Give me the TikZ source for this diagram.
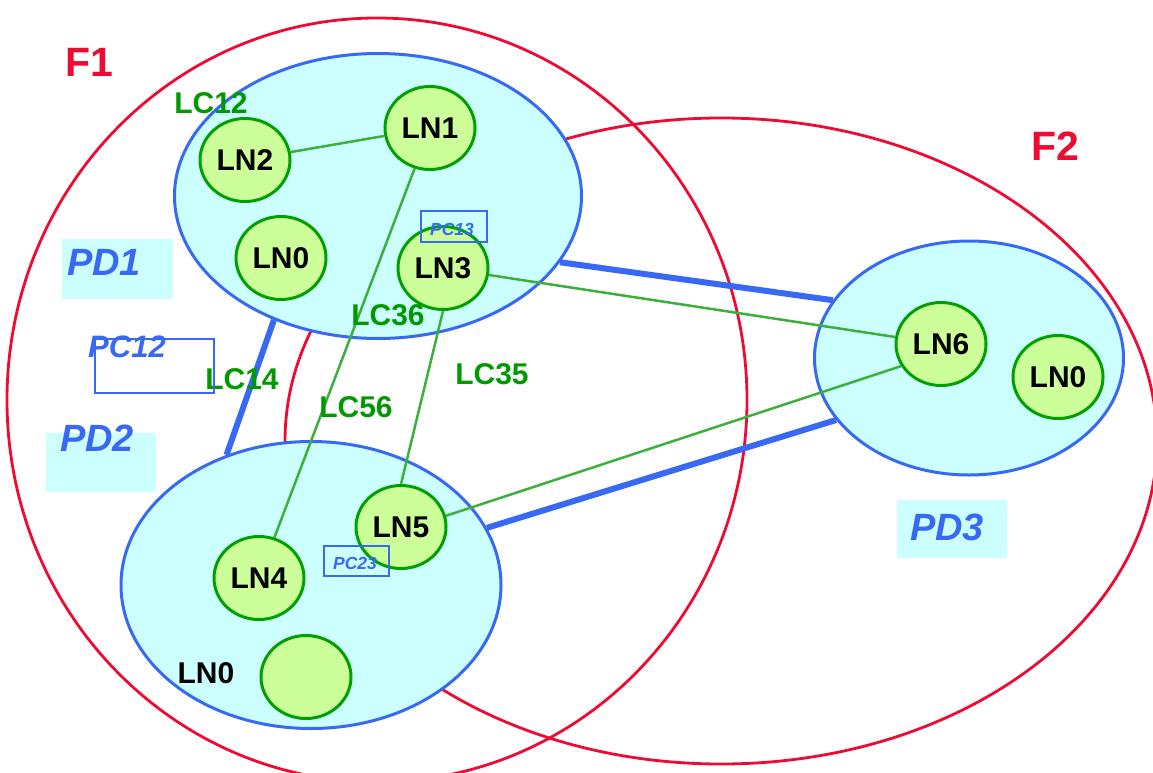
\documentclass[tikz,border=0pt]{standalone}
\usepackage{fontspec}
\setmainfont{Liberation Sans}
\usetikzlibrary{shapes.geometric}
\definecolor{fred}{RGB}{238,10,50}
\definecolor{pdblue}{RGB}{55,105,245}
\definecolor{pdfill}{RGB}{204,255,255}
\definecolor{lnfill}{RGB}{204,255,153}
\definecolor{lnborder}{RGB}{0,160,0}
\definecolor{lcgreen}{RGB}{0,153,0}
\definecolor{linkgreen}{RGB}{60,175,60}
\begin{document}
\begin{tikzpicture}[x=1pt,y=-1pt,
  pdomain/.style={ellipse, draw=pdblue, line width=3pt, fill=pdfill, inner sep=0pt},
  lnnode/.style={ellipse, draw=lnborder, line width=3pt, fill=lnfill, inner sep=0pt,
    minimum width=90pt, minimum height=83pt, font=\fontsize{30}{30}\selectfont\bfseries},
  lntext/.style={inner sep=0pt, font=\fontsize{30}{30}\selectfont\bfseries},
  lclabel/.style={text=lcgreen, inner sep=0pt, font=\fontsize{30}{30}\selectfont\bfseries},
  flabel/.style={text=fred, inner sep=0pt, font=\fontsize{41}{41}\selectfont\bfseries},
  pdlabel/.style={text=pdblue, inner sep=0pt, font=\fontsize{38}{38}\selectfont\bfseries\itshape},
  pdbox/.style={fill=pdfill, inner sep=0pt},
  pcbox/.style={draw=pdblue, line width=1.2pt, inner sep=0pt},
  pcbig/.style={text=pdblue, inner sep=0pt, font=\fontsize{31}{31}\selectfont\bfseries\itshape},
  pcsmall/.style={text=pdblue, inner sep=0pt, font=\fontsize{17.5}{17.5}\selectfont\bfseries\itshape},
  trunkline/.style={draw=pdblue, line width=6pt},
  lnlink/.style={draw=linkgreen, line width=2.5pt},
  fregion/.style={draw=fred, line width=2.8pt}
]
\path[use as bounding box] (0,0) rectangle (1153,773);
\begin{scope}
  \clip (0,0) rectangle (1153,773);
  \draw[fregion] (377,400) ellipse [x radius=370pt, y radius=382pt];
  \draw[fregion] (721,441) ellipse [x radius=436pt, y radius=323pt];
\end{scope}

% domains
\node[pdomain, minimum width=407pt, minimum height=285pt] (PD1) at (378,196) {};
\node[pdomain, minimum width=380pt, minimum height=287pt] (PD2) at (311,585) {};
\node[pdomain, minimum width=309pt, minimum height=234pt] (PD3) at (969,358) {};

% domain label boxes
\node[pdbox, minimum width=111pt, minimum height=60pt] (pd1box) at (117.5,269) {};
\node[pdbox, minimum width=110pt, minimum height=59pt] (pd2box) at (101,462.5) {};
\node[pdbox, minimum width=110pt, minimum height=58pt] (pd3box) at (952,529) {};
\node[pdlabel] (pd1t) at (104,262.5) {PD1};
\node[pdlabel] (pd2t) at (97,438) {PD2};
\node[pdlabel] (pd3t) at (947,527) {PD3};

% trunk links between domains
\draw[trunkline] (PD1.230) -- (PD2.123);
\draw[trunkline] (PD1.340) -- (PD3.157);
\draw[trunkline] (PD2.18) -- (PD3.205);

% logical nodes
\node[lnnode] (LN1) at (430,128) {LN1};
\node[lnnode] (LN2) at (245,160) {LN2};
\node[lnnode] (LN0a) at (281,258) {LN0};
\node[lnnode] (LN3) at (443,268) {LN3};
\node[lnnode] (LN4) at (259,578) {LN4};
\node[lnnode] (LN5) at (401,527) {LN5};
\node[lnnode] (LN0b) at (306,677) {};
\node[lnnode] (LN6) at (941,344) {LN6};
\node[lnnode] (LN0c) at (1058,377) {LN0};
\node[lntext] (LN0bt) at (206,673) {LN0};

% logical links
\draw[lnlink] (LN2) -- (LN1);
\draw[lnlink] (LN1) -- (LN4);
\draw[lnlink] (LN3.south) -- (LN5.north);
\draw[lnlink] (LN3) -- (LN6);
\draw[lnlink] (LN5.14) -- (LN6.209);

% link labels
\node[lclabel] (lc12) at (211,103) {LC12};
\node[lclabel] (lc36) at (388,315) {LC36};
\node[lclabel] (lc14) at (242,379) {LC14};
\node[lclabel] (lc56) at (356,407) {LC56};
\node[lclabel] (lc35) at (492,374) {LC35};

% region labels
\node[flabel] (f1) at (89,62) {F1};
\node[flabel] (f2) at (1055,146) {F2};

% PC boxes
\node[pcbox, minimum width=119pt, minimum height=54pt] (pc12box) at (154.5,366) {};
\node[pcbig] (pc12) at (127,347) {PC12};
\node[pcbox, minimum width=66pt, minimum height=31pt] (pc13box) at (454,226.5) {};
\node[pcsmall] (pc13) at (452,229) {PC13};
\node[pcbox, minimum width=65pt, minimum height=30pt] (pc23box) at (356.5,561) {};
\node[pcsmall] (pc23) at (355,563) {PC23};
\end{tikzpicture}
\end{document}
